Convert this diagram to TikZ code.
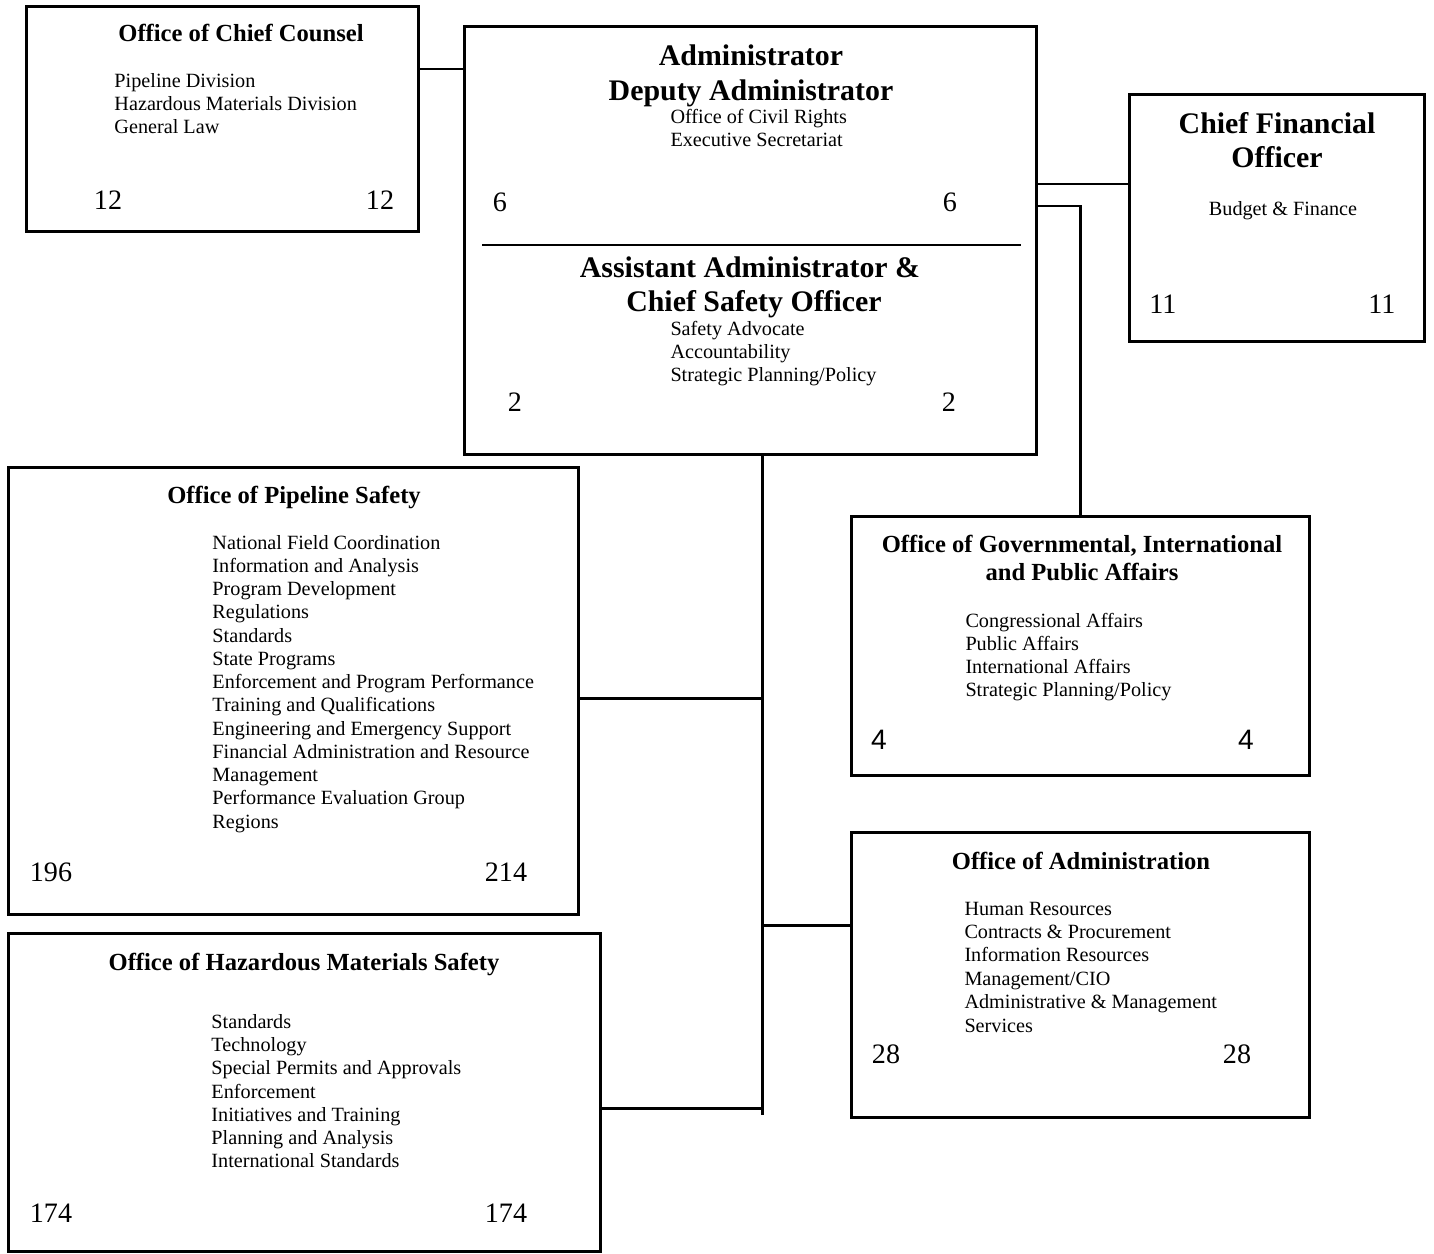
\documentclass[tikz,border=0pt]{standalone}
\usepackage{fontspec}
\setmainfont{Liberation Serif}
\newfontfamily\numsans{Liberation Sans}
\usetikzlibrary{positioning, calc}
\tikzset{
  every picture/.style={line width=1.7pt},
  unit/.style={draw, line width=1.7pt, inner sep=0pt},
  head/.style={font=\fontsize{14}{16}\selectfont\bfseries, anchor=base, inner sep=0pt},
  bighead/.style={font=\fontsize{17}{20}\selectfont\bfseries, anchor=base, inner sep=0pt},
  entry/.style={font=\fontsize{11.5}{13.2}\selectfont, anchor=base west, inner sep=0pt},
  tally/.style={font=\fontsize{16}{18}\selectfont, anchor=base, inner sep=0pt},
  link/.style={draw, line width=1.7pt},
}
\begin{document}
\begin{tikzpicture}[x=0.02cm, y=-0.02cm]
  \useasboundingbox (0,0) rectangle (1434,1254);
  % boxes
  \node[unit, minimum width=7.86cm, minimum height=4.52cm] (counsel) at (222.5,119) {};
  \node[unit, minimum width=11.46cm, minimum height=8.58cm] (admin) at (750.5,240.5) {};
  \node[unit, minimum width=5.92cm, minimum height=4.96cm] (cfo) at (1277,218) {};
  \node[unit, minimum width=11.42cm, minimum height=8.96cm] (pipeline) at (293.5,691) {};
  \node[unit, minimum width=9.18cm, minimum height=5.2cm] (gov) at (1080.5,646) {};
  \node[unit, minimum width=9.18cm, minimum height=5.72cm] (adminoff) at (1080.5,975) {};
  \node[unit, minimum width=11.86cm, minimum height=6.38cm] (hazmat) at (304.5,1092.5) {};
  \draw (482,245) -- (1021,245);

  % Office of Chief Counsel
  \node[head] (ccT) at (241,41) {Office of Chief Counsel};
  \foreach \txt [count=\i] in {Pipeline Division, Hazardous Materials Division, General Law}
    \node[entry] (cc\i) at (113, 64+23*\i) {\txt};

  % Administrator / Assistant Administrator
  \node[bighead] (adT1) at (751,65) {Administrator};
  \node[bighead] (adT2) at (751,100) {Deputy Administrator};
  \foreach \txt [count=\i] in {Office of Civil Rights, Executive Secretariat}
    \node[entry] (ad\i) at (669, 100+23*\i) {\txt};
  \node[bighead] (asT1) at (750,277) {Assistant Administrator \&};
  \node[bighead] (asT2) at (754,311) {Chief Safety Officer};
  \foreach \txt [count=\i] in {Safety Advocate, Accountability, Strategic Planning/Policy}
    \node[entry] (as\i) at (669, 312+23*\i) {\txt};

  % Chief Financial Officer
  \node[bighead] (cfT1) at (1277,133) {Chief Financial};
  \node[bighead] (cfT2) at (1277,167) {Officer};
  \node[entry, anchor=base] (cf1) at (1283,215) {Budget \& Finance};

  % Office of Pipeline Safety
  \node[head] (plT) at (294,503) {Office of Pipeline Safety};
  \foreach \txt [count=\i] in {National Field Coordination, Information and Analysis,
      Program Development, Regulations, Standards, State Programs,
      Enforcement and Program Performance, Training and Qualifications,
      Engineering and Emergency Support, Financial Administration and Resource,
      Management, Performance Evaluation Group, Regions}
    \node[entry] (pl\i) at (211, 525.75+23.25*\i) {\txt};

  % Office of Governmental, International and Public Affairs
  \node[head] (gvT1) at (1082,552) {Office of Governmental, International};
  \node[head] (gvT2) at (1082,580) {and Public Affairs};
  \foreach \txt [count=\i] in {Congressional Affairs, Public Affairs, International Affairs, Strategic Planning/Policy}
    \node[entry] (gv\i) at (964, 604+23*\i) {\txt};

  % Office of Administration
  \node[head] (aoT) at (1081,869) {Office of Administration};
  \foreach \txt [count=\i] in {Human Resources, Contracts \& Procurement, Information Resources,
      Management/CIO, Administrative \& Management, Services}
    \node[entry] (ao\i) at (963, 891.6+23.4*\i) {\txt};

  % Office of Hazardous Materials Safety
  \node[head] (hmT) at (304,970) {Office of Hazardous Materials Safety};
  \foreach \txt [count=\i] in {Standards, Technology, Special Permits and Approvals, Enforcement,
      Initiatives and Training, Planning and Analysis, International Standards}
    \node[entry] (hm\i) at (210, 1004.67+23.33*\i) {\txt};

  % staff numbers
  \foreach \n/\x/\y/\i in {12/108/209/1, 12/380/209/2, 6/500/211/3, 6/950/211/4,
      2/515/411/5, 2/949/411/6, 11/1163/313/7, 11/1382/313/8,
      196/51/881/9, 214/506/881/10, 28/886/1063/11, 28/1237/1063/12,
      174/51/1222/13, 174/506/1222/14}
    \node[tally] (n\i) at (\x,\y) {\n};
  \node[tally, font=\fontsize{16}{18}\selectfont\numsans] (n15) at (879,749) {4};
  \node[tally, font=\fontsize{16}{18}\selectfont\numsans] (n16) at (1246,749) {4};

  % connectors
  \coordinate (spine) at (762,455);
  \coordinate (spineend) at (762,1115);
  \draw[link] (counsel.east |- 0,69) -- (admin.west |- 0,69);
  \draw[link] (admin.east |- 0,184) -- (cfo.west |- 0,184);
  \draw[link] (admin.east |- 0,206) -| (gov.north);
  \draw[link] (spine) -- (spineend);
  \draw[link] (pipeline.east |- 0,698) -- (spine |- 0,698);
  \draw[link] (spine |- 0,925) -- (adminoff.west |- 0,925);
  \draw[link] (hazmat.east |- 0,1108) -- (spine |- 0,1108);
\end{tikzpicture}
\end{document}
